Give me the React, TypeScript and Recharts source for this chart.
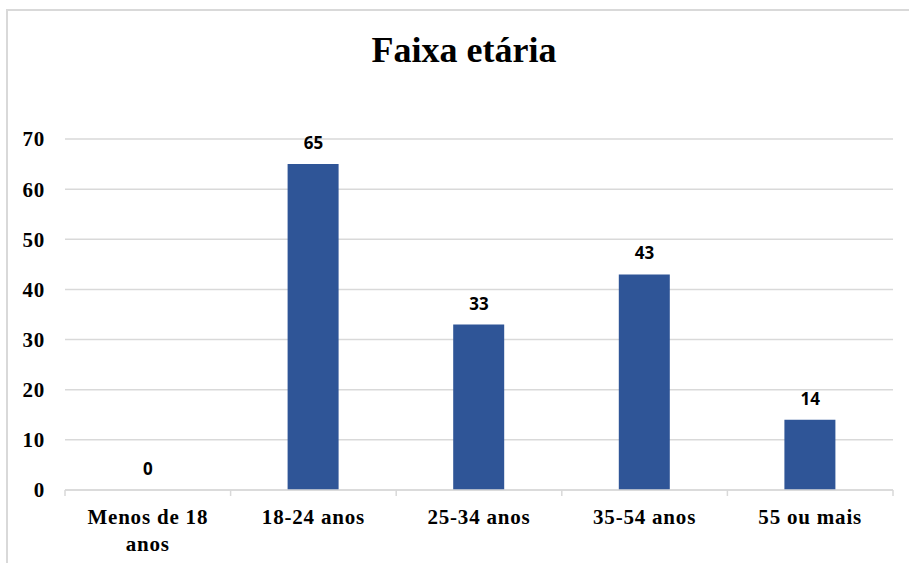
import React from 'react';
import { ComposedChart, Bar, Line, XAxis, YAxis, CartesianGrid, LabelList } from 'recharts';

const categories = ['Menos de 18 anos', '18-24 anos', '25-34 anos', '35-54 anos', '55 ou mais'];
const values = [0, 65, 33, 43, 14];
const yTicks = [0, 10, 20, 30, 40, 50, 60, 70];

const data = categories.map((name, i) => ({ name, value: values[i] }));

const CHART_W = 909;
const CHART_H = 563;
const margin = { top: 139, right: 16, left: 25, bottom: 13 };
const Y_AXIS_W = 40;
const plotWidth = CHART_W - margin.left - margin.right - Y_AXIS_W;
const bandWidth = plotWidth / categories.length;

const serif = '"Liberation Serif", "Times New Roman", serif';
const gridColor = '#d9d9d9';

// category label + the small tick marks Excel puts between categories
const CategoryTick = (props: any) => {
  const { x, y, payload, index } = props;
  const text: string = payload.value;
  let lines = [text];
  if (text.length > 12) {
    const cut = text.lastIndexOf(' ');
    lines = [text.slice(0, cut), text.slice(cut + 1)];
  }
  const left = x - bandWidth / 2;
  const right = x + bandWidth / 2;
  return (
    <g>
      <line x1={left} x2={left} y1={y} y2={y + 6} stroke={gridColor} strokeWidth={1.5} />
      {index === categories.length - 1 && (
        <line x1={right} x2={right} y1={y} y2={y + 6} stroke={gridColor} strokeWidth={1.5} />
      )}
      {lines.map((l, i) => (
        <text
          key={i}
          x={x}
          y={y + 34 + i * 27}
          textAnchor="middle"
          fill="#000"
          fontFamily={serif}
          fontWeight="bold"
          fontSize={21}
          letterSpacing={0.8}
        >
          {l}
        </text>
      ))}
    </g>
  );
};

export default function App() {
  return (
    <div style={{ position: 'absolute', left: 0, top: 0, width: CHART_W, height: CHART_H, background: '#fff', overflow: 'hidden' }}>
      <div
        style={{
          position: 'absolute',
          left: 6,
          top: 9,
          width: CHART_W,
          height: CHART_H,
          borderLeft: `2px solid ${gridColor}`,
          borderTop: `2px solid ${gridColor}`,
        }}
      />
      <div
        style={{
          position: 'absolute',
          left: 0,
          top: 32,
          width: 928,
          textAlign: 'center',
          fontFamily: serif,
          fontWeight: 'bold',
          fontSize: 36,
          lineHeight: '36px',
          color: '#000',
        }}
      >
        Faixa etária
      </div>
      <div style={{ position: 'absolute', left: 0, top: 0 }}>
        <ComposedChart width={CHART_W} height={CHART_H} data={data} margin={margin}>
          <CartesianGrid vertical={false} stroke={gridColor} strokeWidth={1.5} />
          <XAxis
            dataKey="name"
            height={60}
            interval={0}
            axisLine={{ stroke: gridColor, strokeWidth: 1.5 }}
            tickLine={false}
            tickSize={0}
            tickMargin={0}
            tick={<CategoryTick />}
          />
          <YAxis
            width={Y_AXIS_W}
            domain={[0, 70]}
            ticks={yTicks}
            axisLine={false}
            tickLine={false}
            tickMargin={14}
            tick={{ fill: '#000', fontFamily: serif, fontWeight: 'bold', fontSize: 21, letterSpacing: 0.8 }}
          />
          <Bar dataKey="value" fill="#2F5597" barSize={51} isAnimationActive={false} />
          {/* invisible line only to carry the data labels (also shows the 0) */}
          <Line
            dataKey="value"
            stroke="none"
            dot={false}
            activeDot={false}
            legendType="none"
            isAnimationActive={false}
          >
            <LabelList
              dataKey="value"
              position="top"
              offset={15}
              fill="#000"
              fontFamily='"Open Sans", sans-serif'
              fontWeight="bold"
              fontSize={17}
            />
          </Line>
        </ComposedChart>
      </div>
    </div>
  );
}
